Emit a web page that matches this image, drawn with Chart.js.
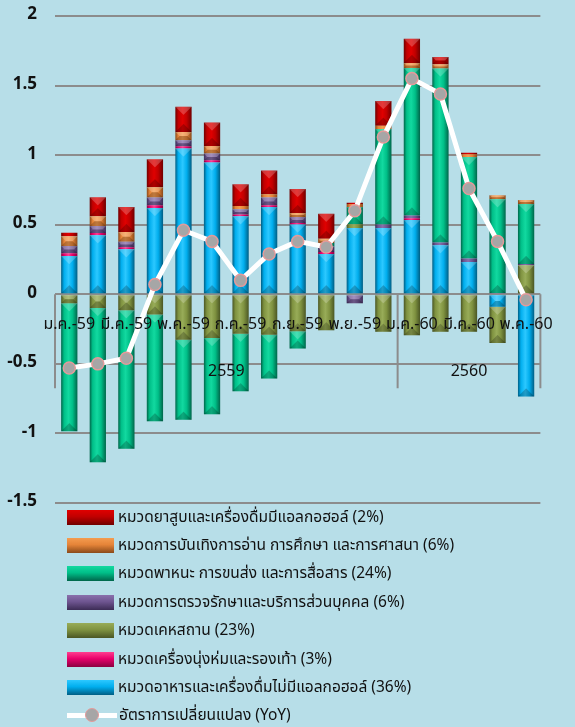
<!DOCTYPE html>
<html>
<head>
<meta charset="utf-8">
<script src="https://cdn.jsdelivr.net/npm/chart.js@4.4.1/dist/chart.umd.min.js"></script>
<style>
    html, body { margin: 0; padding: 0; background: #B7DEE8; }
    .wrap { position: relative; width: 575px; height: 727px; }
    #legend { position: absolute; left: 67px; top: 503px; margin: 0; padding: 0; list-style: none;
        font-family: "Noto Sans Thai", "Noto Sans", sans-serif; font-size: 15.5px; color: #111; }
    #legend li { display: flex; align-items: center; height: 28.4px; }
    #legend .box { width: 47px; height: 15px; margin-right: 4px; }
    #legend .ln { position: relative; width: 50px; height: 15px; margin-right: 2px; }
</style>
</head>
<body>
<div class="wrap">
    <canvas id="graph-cpi"></canvas>
    <ul id="legend"></ul>
</div>
<script>
const months = ["ม.ค.-59", "ก.พ.-59", "มี.ค.-59", "เม.ย.-59", "พ.ค.-59", "มิ.ย.-59", "ก.ค.-59", "ส.ค.-59",
    "ก.ย.-59", "ต.ค.-59", "พ.ย.-59", "ธ.ค.-59", "ม.ค.-60", "ก.พ.-60", "มี.ค.-60", "เม.ย.-60", "พ.ค.-60"];

// contribution of each group (percentage points)
const food =       [0.275, 0.425, 0.323, 0.62, 1.047, 0.947, 0.561, 0.628, 0.501, 0.29, 0.477, 0.477, 0.534, 0.352, 0.232, -0.09, -0.735];
const clothing =   [0.02, 0.015, 0.015, 0.02, 0.017, 0.016, 0.012, 0.012, 0.012, 0.014, 0, 0, 0.012, 0, 0, 0, 0];
const housing =    [-0.065, -0.098, -0.115, -0.146, -0.326, -0.314, -0.283, -0.29, -0.266, -0.259, 0.026, -0.27, -0.295, -0.27, -0.27, -0.26, 0.208];
const medical =    [0.052, 0.05, 0.04, 0.055, 0.043, 0.048, 0.038, 0.055, 0.043, 0.04, -0.065, 0.025, 0.02, 0.02, 0.025, 0.01, 0.01];
const transport =  [-0.92, -1.11, -0.995, -0.767, -0.575, -0.549, -0.414, -0.316, -0.124, 0.025, 0.125, 0.686, 1.06, 1.25, 0.73, 0.673, 0.43];
const recreation = [0.07, 0.07, 0.07, 0.075, 0.06, 0.055, 0.024, 0.024, 0.029, 0.03, 0.02, 0.024, 0.036, 0.031, 0.02, 0.029, 0.03];
const tobacco =    [0.025, 0.137, 0.18, 0.2, 0.18, 0.168, 0.155, 0.17, 0.172, 0.18, 0.01, 0.178, 0.175, 0.053, 0.01, 0, 0];
const yoy =        [-0.53, -0.50, -0.46, 0.07, 0.46, 0.38, 0.10, 0.29, 0.38, 0.34, 0.60, 1.13, 1.55, 1.44, 0.76, 0.38, -0.04];

const yTicks = [2, 1.5, 1, 0.5, 0, -0.5, -1, -1.5];

const BAR_PCT = 0.57;

// bevel look: dark edges, light middle
function bevel(c) {
    return function (ctx) {
        const chart = ctx.chart;
        const xs = chart.scales.x;
        if (!xs || !chart.chartArea || ctx.dataIndex === undefined) return c.base;
        const w = xs.width / months.length * BAR_PCT;
        const cx = xs.getPixelForValue(ctx.dataIndex);
        const g = chart.ctx.createLinearGradient(cx - w / 2, 0, cx + w / 2, 0);
        g.addColorStop(0, c.dark);
        g.addColorStop(0.18, c.base);
        g.addColorStop(0.45, c.light);
        g.addColorStop(0.7, c.base);
        g.addColorStop(1, c.dark);
        return g;
    };
}

const colors = {
    food:       { base: "#00AEEE", light: "#2CC8FF", dark: "#005E84" },
    clothing:   { base: "#E8006A", light: "#FF3D8F", dark: "#8A0040" },
    housing:    { base: "#7F9240", light: "#98AC58", dark: "#4A5624" },
    medical:    { base: "#6E5590", light: "#8A70AC", dark: "#3C2C55" },
    transport:  { base: "#00BF88", light: "#12D9A0", dark: "#00664A" },
    recreation: { base: "#E58438", light: "#F49C50", dark: "#8A4A1A" },
    tobacco:    { base: "#C00000", light: "#E00000", dark: "#700000" }
};

function barSet(label, data, c) {
    return {
        type: "bar",
        label: label,
        data: data,
        backgroundColor: bevel(c),
        borderWidth: 0,
        legendColor: c,
        order: 1
    };
}

const datasets = [
    {
        type: "line",
        label: "อัตราการเปลี่ยนแปลง (YoY)",
        data: yoy,
        borderColor: "#FFFFFF",
        borderWidth: 5,
        pointRadius: 6,
        pointBackgroundColor: "#A6A6A6",
        pointBorderColor: "#E39A9A",
        pointBorderWidth: 1.5,
        tension: 0,
        order: 0
    },
    barSet("หมวดอาหารและเครื่องดื่มไม่มีแอลกอฮอล์ (36%)", food, colors.food),
    barSet("หมวดเครื่องนุ่งห่มและรองเท้า (3%)", clothing, colors.clothing),
    barSet("หมวดเคหสถาน (23%)", housing, colors.housing),
    barSet("หมวดการตรวจรักษาและบริการส่วนบุคคล (6%)", medical, colors.medical),
    barSet("หมวดพาหนะ การขนส่ง และการสื่อสาร (24%)", transport, colors.transport),
    barSet("หมวดการบันเทิงการอ่าน การศึกษา และการศาสนา (6%)", recreation, colors.recreation),
    barSet("หมวดยาสูบและเครื่องดื่มมีแอลกอฮอล์ (2%)", tobacco, colors.tobacco)
];

const FONT = "'Noto Sans Thai', 'Noto Sans', sans-serif";

// top / bottom facets of each bar segment
const barFacets = {
    id: "barFacets",
    afterDatasetDraw(chart, args) {
        const meta = args.meta;
        if (meta.type !== "bar") return;
        const ctx = chart.ctx;
        ctx.save();
        meta.data.forEach(bar => {
            const p = bar.getProps(["x", "y", "base", "width"], true);
            const top = Math.min(p.y, p.base);
            const bottom = Math.max(p.y, p.base);
            const h = bottom - top;
            if (h < 4) return;
            const l = p.x - p.width / 2;
            const r = p.x + p.width / 2;
            const d = Math.min(p.width / 2, h / 2, 8);
            ctx.fillStyle = "rgba(255,255,255,0.22)";
            ctx.beginPath();
            ctx.moveTo(l, top); ctx.lineTo(r, top); ctx.lineTo(r - d, top + d); ctx.lineTo(l + d, top + d);
            ctx.closePath(); ctx.fill();
            ctx.fillStyle = "rgba(0,0,0,0.22)";
            ctx.beginPath();
            ctx.moveTo(l, bottom); ctx.lineTo(r, bottom); ctx.lineTo(r - d, bottom - d); ctx.lineTo(l + d, bottom - d);
            ctx.closePath(); ctx.fill();
        });
        ctx.restore();
    }
};

// year groups under the month labels + separators
const yearGroups = {
    id: "yearGroups",
    afterDatasetsDraw(chart) {
        const xs = chart.scales.x;
        const ys = chart.scales.y;
        const ctx = chart.ctx;
        const step = xs.width / months.length;
        const y0 = ys.getPixelForValue(0);
        const groups = [];
        months.forEach((m, i) => {
            const yr = "25" + m.slice(-2);
            if (!groups.length || groups[groups.length - 1].yr !== yr) groups.push({ yr: yr, from: i, to: i });
            else groups[groups.length - 1].to = i;
        });
        ctx.save();
        ctx.strokeStyle = "#8C8C8C";
        ctx.lineWidth = 2;
        ctx.fillStyle = "#111";
        ctx.font = "16px " + FONT;
        ctx.textAlign = "center";
        ctx.textBaseline = "middle";
        groups.forEach((g, k) => {
            const left = xs.getPixelForValue(g.from) - step / 2;
            const right = xs.getPixelForValue(g.to) + step / 2;
            ctx.beginPath();
            ctx.moveTo(left, y0);
            ctx.lineTo(left, y0 + 94);
            if (k === groups.length - 1) {
                ctx.moveTo(right, y0);
                ctx.lineTo(right, y0 + 94);
            }
            ctx.stroke();
            ctx.fillText(g.yr, (left + right) / 2, y0 + 78);
        });
        ctx.restore();
    }
};

// html legend, one item per row
const htmlLegend = {
    id: "htmlLegend",
    afterUpdate(chart) {
        const ul = document.getElementById("legend");
        ul.innerHTML = "";
        const bars = chart.data.datasets.filter(d => d.type === "bar").reverse();
        const line = chart.data.datasets.filter(d => d.type === "line");
        bars.forEach(ds => {
            const li = document.createElement("li");
            const c = ds.legendColor;
            li.innerHTML = `<span class="box" style="background:linear-gradient(${c.light} 0%, ${c.base} 45%, ${c.dark} 100%)"></span><span>${ds.label}</span>`;
            ul.appendChild(li);
        });
        line.forEach(ds => {
            const li = document.createElement("li");
            li.innerHTML = `<span class="ln"><span style="position:absolute;left:0;right:0;top:5px;height:5px;background:${ds.borderColor}"></span>` +
                `<span style="position:absolute;left:18px;top:0;width:12px;height:12px;border-radius:50%;background:${ds.pointBackgroundColor};border:1.5px solid ${ds.pointBorderColor}"></span></span><span>${ds.label}</span>`;
            ul.appendChild(li);
        });
    }
};

const graph = new Chart(document.getElementById("graph-cpi"), {
    data: { labels: months, datasets: datasets },
    options: {
        responsive: true,
        maintainAspectRatio: false,
        animation: false,
        layout: { padding: { left: 0, right: 14, top: 16, bottom: 224 } },
        datasets: { bar: { categoryPercentage: 1, barPercentage: BAR_PCT } },
        plugins: {
            legend: { display: false },
            tooltip: { enabled: false }
        },
        scales: {
            x: {
                stacked: true,
                position: { y: 0 },
                afterFit: s => { s.height = 0; },
                grid: { display: false, drawTicks: false },
                border: { display: false },
                ticks: {
                    z: 1,
                    autoSkip: false,
                    maxRotation: 0,
                    padding: 22,
                    color: "#111",
                    font: { family: FONT, size: 16 },
                    callback: (v, i) => (i % 2 === 0 ? months[i] : "")
                }
            },
            y: {
                stacked: true,
                min: -1.5,
                max: 2,
                afterFit: s => {
                    s.width = 55;
                    s.paddingTop = 10;
                    s.paddingBottom = 10;
                },
                afterBuildTicks: s => { s.ticks = yTicks.map(v => ({ value: v })); },
                grid: { color: "#8C8C8C", lineWidth: 2, drawTicks: false },
                border: { display: false },
                ticks: {
                    padding: 18,
                    color: "#111",
                    font: { family: FONT, size: 17, weight: "bold" },
                    callback: v => String(v)
                }
            }
        }
    },
    plugins: [barFacets, yearGroups, htmlLegend]
});
</script>
</body>
</html>
